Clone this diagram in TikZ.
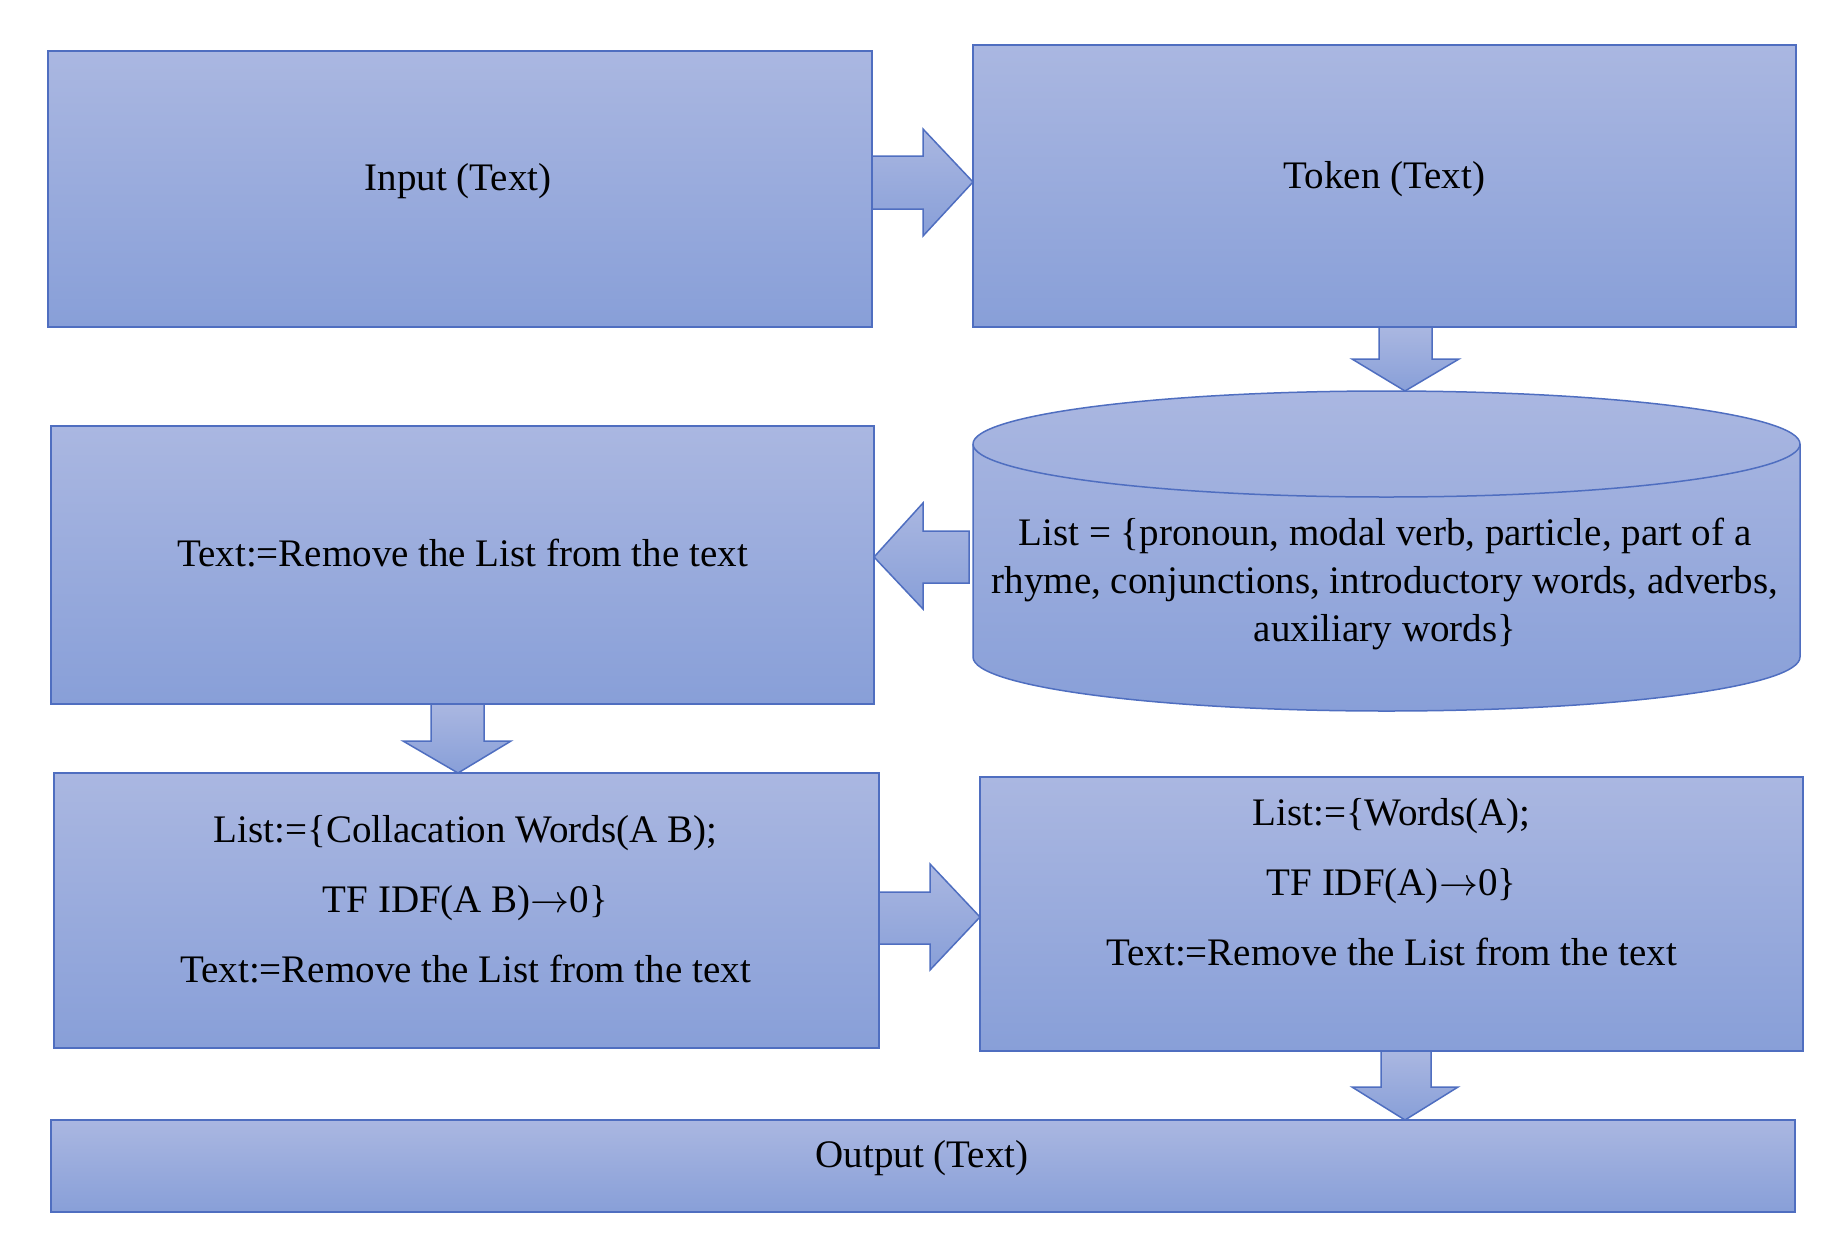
\RequirePackage{fix-cm}
\documentclass[tikz,border=0pt]{standalone}
\usepackage{fontspec}
\setmainfont{Liberation Serif}
\usetikzlibrary{calc}

\definecolor{boxtop}{HTML}{AAB7E1}
\definecolor{boxbot}{HTML}{889FD8}
\definecolor{boxline}{HTML}{4F6EC0}

\tikzset{
  box/.style={draw=boxline, line width=1.5pt, top color=boxtop, bottom color=boxbot,
    inner sep=0pt, outer sep=0pt},
  blockarrow/.style={draw=boxline, line width=1.5pt, top color=boxtop, bottom color=boxbot,
    line join=miter},
  txt/.style={font=\fontsize{39}{48}\selectfont, align=center, inner sep=0pt}
}

\begin{document}
\begin{tikzpicture}[x=1pt,y=1pt,yscale=-1]
\useasboundingbox (0,0) rectangle (1847,1248);

%Shape: Rectangle
\node[box, minimum width=824, minimum height=276] (input) at (460,189) {};
\node[txt] (inputtxt) at ($(input.center)+(-2,-8)$) {Input (Text)};

%Shape: Rectangle
\node[box, minimum width=823, minimum height=282] (token) at (1384.5,186) {};
\node[txt] (tokentxt) at ($(token.center)+(0,-7)$) {Token (Text)};

%Shape: Rectangle
\node[box, minimum width=823, minimum height=278] (remove) at (462.5,565) {};
\node[txt] (removetxt) at ($(remove.center)+(0,-12)$) {Text:=Remove the List from the text};

%Shape: Can
\node[minimum width=827, minimum height=320, inner sep=0pt, outer sep=0pt] (list) at (1386.5,551) {};
\path[box] ($(list.north west)+(0,53)$) -- ($(list.south west)+(0,-54)$)
  arc[start angle=180, end angle=0, x radius=413.5, y radius=54]
  -- ($(list.north east)+(0,53)$)
  arc[start angle=0, end angle=-180, x radius=413.5, y radius=53] -- cycle;
\draw[boxline, line width=1.5pt] ($(list.north west)+(0,53)$)
  arc[start angle=180, end angle=0, x radius=413.5, y radius=53];
\node[txt] (listtxt) at (1385,584) {List = \{pronoun, modal verb, particle, part of a\\
  rhyme, conjunctions, introductory words, adverbs,\\ auxiliary words\}};

%Shape: Rectangle
\node[box, minimum width=825, minimum height=275] (collo) at (466.5,910.5) {};
\node[txt] (collotxt) at ($(collo.center)+(-1,-11)$) {List:=\{Collacation Words(A B);\\[22pt]
  TF IDF(A B)$\rightarrow$0\}\\[22pt] Text:=Remove the List from the text};

%Shape: Rectangle
\node[box, minimum width=823, minimum height=274] (words) at (1391.5,914) {};
\node[txt] (wordstxt) at ($(words.center)+(0,-32)$) {List:=\{Words(A);\\[22pt]
  TF IDF(A)$\rightarrow$0\}\\[22pt] Text:=Remove the List from the text};

%Shape: Rectangle
\node[box, minimum width=1744, minimum height=92] (output) at (923,1166) {};
\node[txt] (outputtxt) at ($(output.center)+(-1,-8)$) {Output (Text)};


%Shape: Right Arrow
\draw[blockarrow] (token.west |- 0,182) -- ++(-50,-53) -- ++(0,27) -- (input.east |- 0,156)
  -- ++(0,53) -- ++(51,0) -- ++(0,27) -- cycle;

%Shape: Down Arrow
\draw[blockarrow] (1405,0 |- list.north) -- ++(-53,-32) -- ++(27,0) -- (1379,0 |- token.south)
  -- ++(53,0) -- ++(0,32) -- ++(27,0) -- cycle;

%Shape: Left Arrow
\draw[blockarrow] (remove.east |- 0,557) -- ++(49,-54) -- ++(0,28) -- (969,531)
  -- ++(0,52) -- ++(-46,0) -- ++(0,26) -- cycle;

%Shape: Down Arrow
\draw[blockarrow] (458,0 |- collo.north) -- ++(-55,-32) -- ++(28,0) -- (431,0 |- remove.south)
  -- ++(53,0) -- ++(0,37) -- ++(27,0) -- cycle;

%Shape: Right Arrow
\draw[blockarrow] (words.west |- 0,917) -- ++(-50,-53) -- ++(0,28) -- (collo.east |- 0,892)
  -- ++(0,52) -- ++(51,0) -- ++(0,26) -- cycle;

%Shape: Down Arrow
\draw[blockarrow] (1405,0 |- output.north) -- ++(-53,-33) -- ++(29,0) -- (1381,0 |- words.south)
  -- ++(50,0) -- ++(0,36) -- ++(27,0) -- cycle;

\end{tikzpicture}
\end{document}
